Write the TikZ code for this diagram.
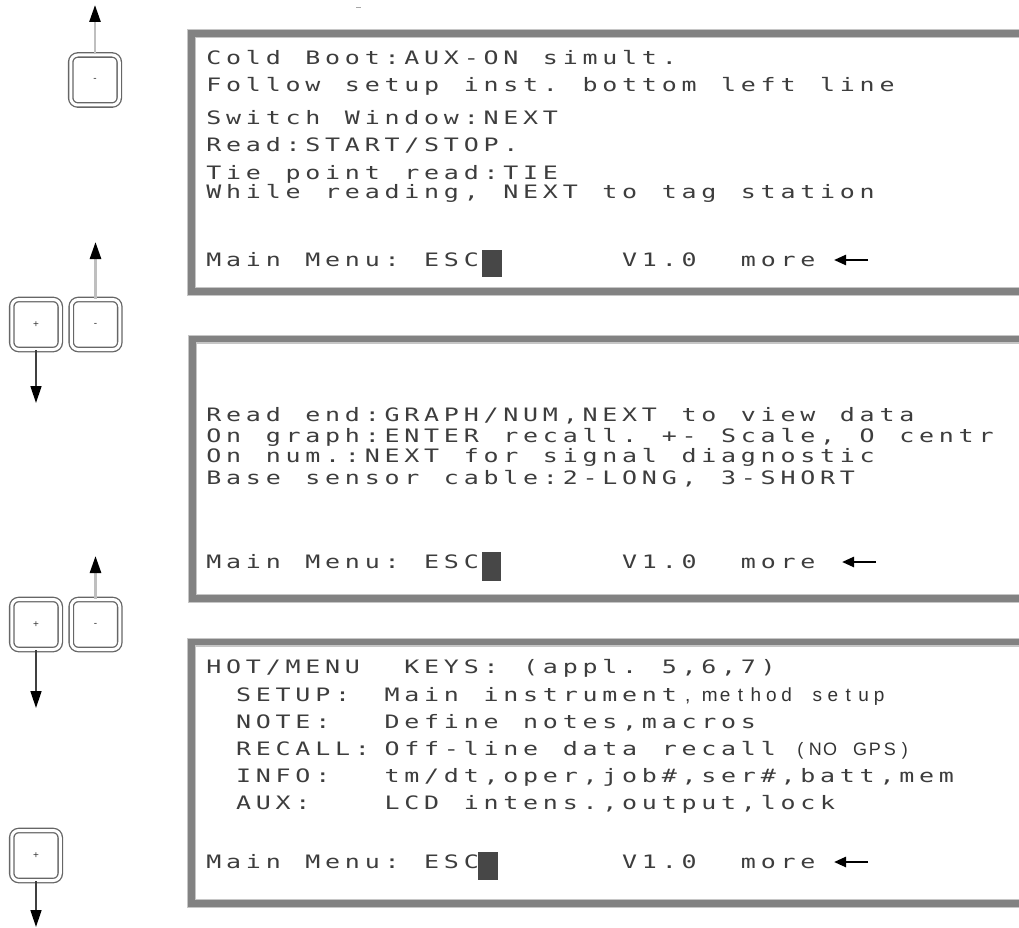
\documentclass[tikz,border=0pt]{standalone}
\usepackage{fontspec}
\usetikzlibrary{arrows.meta}
\newfontfamily\lcdfont[FakeStretch=1.35]{DejaVu Sans Mono}
\newfontfamily\smallfont{Liberation Sans}
\ExplSyntaxOn
\tl_new:N \l_lcdtext_tl
\NewDocumentCommand \cells { m m }
  {
    \tl_set:Nn \l_lcdtext_tl { #2 }
    \tl_map_inline:Nn \l_lcdtext_tl { \makebox[#1][c]{##1} }
  }
\ExplSyntaxOff
\newcommand\lcd[1]{\cells{19.8pt}{#1}}
\tikzset{
  lcd/.style={anchor=base west, inner sep=0pt, outer sep=0pt,
    font=\lcdfont\fontsize{18.5}{18.5}\selectfont, text=black!76},
  smalltxt/.style={anchor=base west, inner sep=0pt, outer sep=0pt,
    font=\smallfont\fontsize{19}{19}\selectfont, text=black!80},
  frame/.style={draw=gray!45, line width=9pt},
  frameband/.style={draw=gray!98, line width=6.6pt},
  cursor/.style={fill=black!72},
  morearrow/.style={line width=2.4pt, -{Triangle[width=10pt,length=12pt]}},
  keybox/.style={draw=gray!80!black, double=white, double distance=3pt,
    line width=1.3pt, rounded corners=7pt, minimum width=48.5pt,
    minimum height=50pt, inner sep=0pt, text=black!80,
    font=\smallfont\fontsize{10}{10}\selectfont},
  uparr/.style={draw=gray!50, line width=2.6pt,
    -{Triangle[width=11pt,length=17pt,color=black]}},
  downarr/.style={draw=black!75, line width=1.4pt,
    -{Triangle[width=11pt,length=17pt,color=black]}}
}
\begin{document}
\begin{tikzpicture}[x=1pt,y=-1pt]
\useasboundingbox (0,0) rectangle (1019,928);
\clip (0,0) rectangle (1019,928);

% stray mark
\draw[gray!70, line width=1pt] (356,8) -- (361,8);

% ---------- screen frames ----------
\draw[frame] (191.5,33.5) rectangle (1040,291.5);
\draw[frameband] (191.5,33.5) rectangle (1040,291.5);
\draw[frame] (192.5,339) rectangle (1040,598.5);
\draw[frameband] (192.5,339) rectangle (1040,598.5);
\draw[frame] (191.5,642) rectangle (1040,903.5);
\draw[frameband] (191.5,642) rectangle (1040,903.5);

% ---------- screen 1 ----------
\node[lcd] (a1) at (204,65)  {\lcd{Cold~Boot:AUX-ON~simult.}};
\node[lcd] (a2) at (204,92)  {\lcd{Follow~setup~inst.~bottom~left~line}};
\node[lcd] (a3) at (204,125) {\lcd{Switch~Window:NEXT}};
\node[lcd] (a4) at (204,152) {\lcd{Read:START/STOP.}};
\node[lcd] (a5) at (204,179) {\lcd{Tie~point~read:TIE}};
\node[lcd] (a6) at (204,198) {\lcd{While~reading,~NEXT~to~tag~station}};
\node[lcd] (a7) at (204,266) {\lcd{Main~Menu:~ESC}};
\fill[cursor] (482,250) rectangle (502,277);
\node[lcd] (a8) at (619.8,266) {\lcd{V1.0}};
\node[lcd] (a9) at (738.6,266) {\lcd{more}};
\coordinate (a10s) at (868,260);
\coordinate (a10e) at (834,260);
\draw[morearrow] (a10s) -- (a10e);

% ---------- screen 2 ----------
\node[lcd] (b1) at (204,421) {\lcd{Read~end:GRAPH/NUM,NEXT~to~view~data}};
\node[lcd] (b2) at (204,442) {\lcd{On~graph:ENTER~recall.~+-~Scale,~O~centr}};
\node[lcd] (b3) at (204,462) {\lcd{On~num.:NEXT~for~signal~diagnostic}};
\node[lcd] (b4) at (204,484) {\lcd{Base~sensor~cable:2-LONG,~3-SHORT}};
\node[lcd] (b5) at (204,568) {\lcd{Main~Menu:~ESC}};
\fill[cursor] (482,552) rectangle (501,581);
\node[lcd] (b6) at (619.8,568) {\lcd{V1.0}};
\node[lcd] (b7) at (738.6,568) {\lcd{more}};
\coordinate (b8s) at (876,562);
\coordinate (b8e) at (842,562);
\draw[morearrow] (b8s) -- (b8e);

% ---------- screen 3 ----------
\node[lcd] (c1) at (204,673) {\lcd{HOT/MENU~~KEYS:~(appl.~5,6,7)}};
\node[lcd] (c2) at (233.7,701) {\lcd{SETUP:}};
\node[lcd] (c3) at (382.2,701) {\lcd{Main~instrument}};
\node[smalltxt] (c4) at (685,701) {,};
\node[smalltxt] (c5) at (702,701) {\cells{15.4pt}{method~setup}};
\node[lcd] (c6) at (233.7,728) {\lcd{NOTE:}};
\node[lcd] (c7) at (382.2,728) {\lcd{Define~notes,macros}};
\node[lcd] (c8) at (233.7,755) {\lcd{RECALL:}};
\node[lcd] (c9) at (382.2,755) {\lcd{Off-line~data~recall}};
\node[smalltxt] (c10) at (793,755) {\fontsize{18}{18}\selectfont\cells{14.9pt}{(NO~GPS)}};
\node[lcd] (c11) at (233.7,782) {\lcd{INFO:}};
\node[lcd] (c12) at (382.2,782) {\lcd{tm/dt,oper,job\#,ser\#,batt,mem}};
\node[lcd] (c13) at (233.7,809) {\lcd{AUX:}};
\node[lcd] (c14) at (382.2,809) {\lcd{LCD~intens.,output,lock}};
\node[lcd] (c15) at (204,868) {\lcd{Main~Menu:~ESC}};
\fill[cursor] (478,852) rectangle (498,880);
\node[lcd] (c16) at (619.8,868) {\lcd{V1.0}};
\node[lcd] (c17) at (738.6,868) {\lcd{more}};
\coordinate (c18s) at (868,862);
\coordinate (c18e) at (834,862);
\draw[morearrow] (c18s) -- (c18e);

% ---------- keys ----------
\node[keybox] (k1) at (95,80) {-};
\node[keybox] (k2p) at (36,324.5) {+};
\node[keybox] (k2m) at (95.5,324.5) {-};
\node[keybox] (k3p) at (36,624.5) {+};
\node[keybox] (k3m) at (95.5,624.5) {-};
\node[keybox] (k4p) at (36,855.5) {+};

\coordinate (t1) at (95,5);
\coordinate (t2u) at (95.5,242);
\coordinate (t2d) at (36,403);
\coordinate (t3u) at (95.5,556);
\coordinate (t3d) at (36,708);
\coordinate (t4d) at (36,927);

\draw[uparr] (k1) -- (t1);
\draw[uparr] (k2m) -- (t2u);
\draw[downarr] (k2p) -- (t2d);
\draw[uparr] (k3m) -- (t3u);
\draw[downarr] (k3p) -- (t3d);
\draw[downarr] (k4p) -- (t4d);
\end{tikzpicture}
\end{document}
